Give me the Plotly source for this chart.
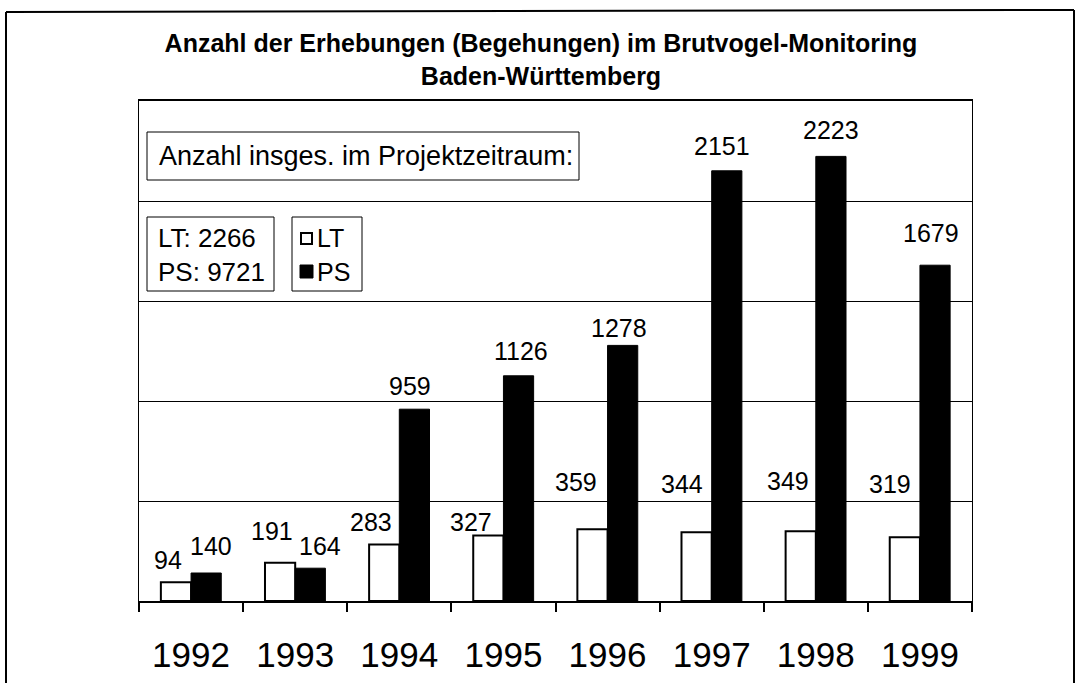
import plotly.graph_objects as go

# ---- data ----
years = ["1992", "1993", "1994", "1995", "1996", "1997", "1998", "1999"]
lt_values = [94, 191, 283, 327, 359, 344, 349, 319]
ps_values = [140, 164, 959, 1126, 1278, 2151, 2223, 1679]
total_lt = 2266
total_ps = 9721
title_text = "Anzahl der Erhebungen (Begehungen) im Brutvogel-Monitoring<br>Baden-Württemberg"

# label offsets (px) relative to top-centre of each bar
lt_dx = [-8, -8, -13, -17, -16, -15, -13, -15]
lt_dy = [-22, -32, -22, -14, -47, -48, -50, -53]
ps_dx = [5, 10, -4, 2, -4, -5, 0, -4]
ps_dy = [-27, -22, -23, -25, -17, -25, -26, -32]

W, H = 1079, 683
L, R, T, B = 139, 972, 101, 601   # plot area in pixels
FONT = "Liberation Sans, Arial, sans-serif"


def px(x):
    return (x - L) / (R - L)


def py(y):
    return (B - y) / (B - T)


fig = go.Figure()
fig.add_trace(go.Bar(x=years, y=lt_values, name="LT",
                     marker=dict(color="white", line=dict(color="black", width=2))))
fig.add_trace(go.Bar(x=years, y=ps_values, name="PS",
                     marker=dict(color="black", line=dict(color="black", width=1))))

cat_w = (R - L) / len(years)
bargap = 0.42
bar_w = cat_w * (1 - bargap) / 2

annotations = []
for i, yr in enumerate(years):
    annotations.append(dict(x=i, y=lt_values[i], xref="x", yref="y", text=str(lt_values[i]),
                            showarrow=False, xanchor="center", yanchor="middle",
                            xshift=-bar_w / 2 + lt_dx[i], yshift=-lt_dy[i],
                            font=dict(family=FONT, size=25, color="black")))
    annotations.append(dict(x=i, y=ps_values[i], xref="x", yref="y", text=str(ps_values[i]),
                            showarrow=False, xanchor="center", yanchor="middle",
                            xshift=bar_w / 2 + ps_dx[i], yshift=-ps_dy[i],
                            font=dict(family=FONT, size=25, color="black")))

# text boxes
annotations.append(dict(x=px(157), y=py(156), xref="paper", yref="paper",
                        text="Anzahl insges. im Projektzeitraum:", showarrow=False,
                        xanchor="left", yanchor="middle",
                        font=dict(family=FONT, size=27, color="black")))
annotations.append(dict(x=px(156), y=py(238), xref="paper", yref="paper",
                        text=f"LT: {total_lt}", showarrow=False,
                        xanchor="left", yanchor="middle",
                        font=dict(family=FONT, size=26, color="black")))
annotations.append(dict(x=px(156), y=py(272), xref="paper", yref="paper",
                        text=f"PS: {total_ps}", showarrow=False,
                        xanchor="left", yanchor="middle",
                        font=dict(family=FONT, size=26, color="black")))
annotations.append(dict(x=px(315), y=py(238), xref="paper", yref="paper",
                        text="LT", showarrow=False, xanchor="left", yanchor="middle",
                        font=dict(family=FONT, size=25, color="black")))
annotations.append(dict(x=px(315), y=py(272), xref="paper", yref="paper",
                        text="PS", showarrow=False, xanchor="left", yanchor="middle",
                        font=dict(family=FONT, size=25, color="black")))

frame = dict(color="black", width=2)
shapes = [
    # outer frame (left, top, right edges)
    dict(type="line", xref="paper", yref="paper", x0=px(6), x1=px(6), y0=py(683), y1=py(12), line=frame),
    dict(type="line", xref="paper", yref="paper", x0=px(6), x1=px(1074), y0=py(12), y1=py(10), line=frame),
    dict(type="line", xref="paper", yref="paper", x0=px(1074), x1=px(1074), y0=py(683), y1=py(10), line=frame),
    dict(type="rect", xref="paper", yref="paper", x0=px(147), x1=px(579), y0=py(180), y1=py(132),
         line=dict(color="black", width=1), fillcolor="white"),
    dict(type="rect", xref="paper", yref="paper", x0=px(147), x1=px(274), y0=py(291), y1=py(217),
         line=dict(color="black", width=1), fillcolor="white"),
    dict(type="rect", xref="paper", yref="paper", x0=px(292), x1=px(362), y0=py(291), y1=py(217),
         line=dict(color="black", width=1), fillcolor="white"),
    dict(type="rect", xref="paper", yref="paper", x0=px(301), x1=px(312), y0=py(244), y1=py(233),
         line=dict(color="black", width=2), fillcolor="white"),
    dict(type="rect", xref="paper", yref="paper", x0=px(300), x1=px(313), y0=py(278), y1=py(265),
         line=dict(color="black", width=1), fillcolor="black"),
]

fig.update_layout(
    width=W, height=H,
    margin=dict(l=L, r=W - R, t=T, b=H - B, pad=0, autoexpand=False),
    paper_bgcolor="white", plot_bgcolor="white",
    barmode="group", bargap=bargap, bargroupgap=0,
    showlegend=False,
    title=dict(text=title_text, x=541 / W, xanchor="center", xref="container",
               y=1 - 52 / H, yanchor="middle", yref="container",
               font=dict(family=FONT, size=25, color="black", weight="bold")),
    annotations=annotations,
    shapes=shapes,
    font=dict(family=FONT, color="black"),
)
fig.update_xaxes(type="category", range=[-0.5, len(years) - 0.5], autorange=False,
                 showline=True, linecolor="black", linewidth=2, mirror=True,
                 ticks="outside", tickson="boundaries", ticklen=9, tickwidth=1.5, tickcolor="black",
                 ticklabelstandoff=22, tickangle=0, automargin=False,
                 tickfont=dict(family=FONT, size=35, color="black"), showgrid=False)
fig.update_yaxes(range=[0, 2500], autorange=False, dtick=500, showgrid=True, gridcolor="black",
                 gridwidth=1, automargin=False,
                 showticklabels=False, ticks="", showline=True, linecolor="black", linewidth=1,
                 mirror=True, zeroline=False)

fig.write_html("out.html", config={"displayModeBar": False},
               post_script="document.body.style.margin='0';document.body.style.overflow='hidden';")
